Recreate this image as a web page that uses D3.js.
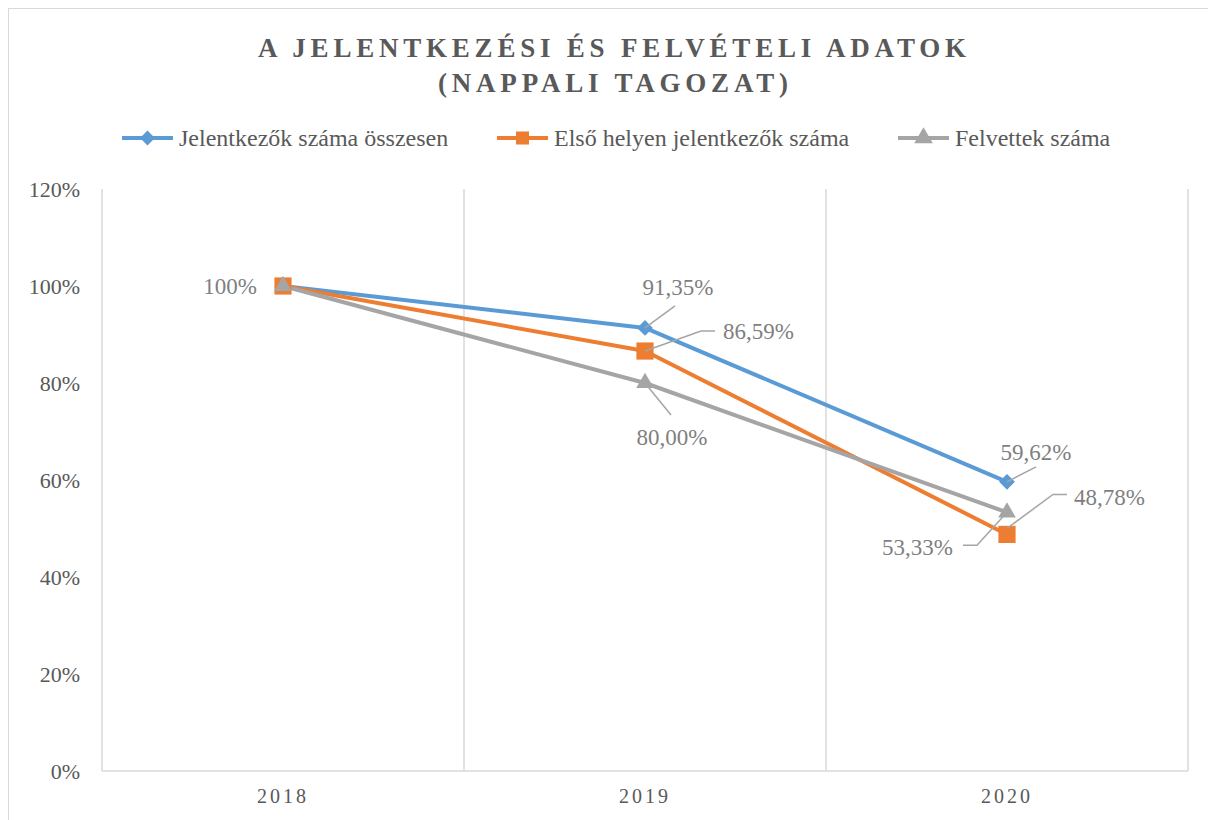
<!DOCTYPE html>
<html>
<head>
<meta charset="utf-8">
<script src="https://cdn.jsdelivr.net/npm/d3@7"></script>
<style>
  html, body { margin: 0; padding: 0; background: #fff; }
  svg { display: block; font-family: "Liberation Serif", "Times New Roman", serif; }
</style>
</head>
<body>
<svg id="chart" width="1208" height="820"></svg>
<script>
// data
const years = ["2018", "2019", "2020"];
const jelentkezok = [1.0, 0.9135, 0.5962];
const elsoHelyen = [1.0, 0.8659, 0.4878];
const felvettek = [1.0, 0.80, 0.5333];
const yTicks = [0, 0.2, 0.4, 0.6, 0.8, 1.0, 1.2];

const seriesNames = ["Jelentkezők száma összesen", "Első helyen jelentkezők száma", "Felvettek száma"];
const seriesValues = [jelentkezok, elsoHelyen, felvettek];
const colors = ["#5B9BD5", "#ED7D31", "#A5A5A5"];
const serif = "'Liberation Serif', 'Times New Roman', serif";

// diamond = square turned 45deg, like the spreadsheet marker
const markerPath = (s, big) => {
  if (s === 0) return d3.symbol().type(d3.symbolSquare).size(big ? 125 : 110)();
  if (s === 1) return d3.symbol().type(d3.symbolSquare).size(big ? 295 : 170)();
  return d3.symbol().type(d3.symbolTriangle).size(big ? 135 : 150)();
};
const markerRot = s => s === 0 ? " rotate(45)" : "";

const svg = d3.select("#chart");
const width = 1208, height = 820;
const margin = {left: 102, right: 20, top: 189, bottom: 49};

const x = d3.scaleBand().domain(years).range([margin.left, width - margin.right]).padding(0);
const y = d3.scaleLinear().domain([0, 1.2]).range([height - margin.bottom, margin.top]);
const cx = d => x(d) + x.bandwidth() / 2;

const fmt = v => v === 1 ? "100%" : (v * 100).toFixed(2).replace(".", ",") + "%";

// outer frame
svg.append("rect")
  .attr("x", 8.5).attr("y", 8.5)
  .attr("width", 1300).attr("height", 900)
  .attr("fill", "none").attr("stroke", "#d9d9d9");

// title
const title = svg.append("text")
  .attr("text-anchor", "middle")
  .attr("fill", "#595959")
  .attr("font-weight", "bold")
  .attr("font-size", 27);
title.append("tspan").attr("x", 612).attr("y", 57)
  .attr("textLength", 708).attr("lengthAdjust", "spacing")
  .text("A JELENTKEZÉSI ÉS FELVÉTELI ADATOK");
title.append("tspan").attr("x", 613).attr("y", 92)
  .attr("textLength", 350).attr("lengthAdjust", "spacing")
  .text("(NAPPALI TAGOZAT)");

// legend
const legendX = [122, 497, 898];
const legend = svg.append("g").selectAll("g")
  .data(seriesNames)
  .join("g")
  .attr("transform", (d, i) => `translate(${legendX[i]},138)`);
legend.append("line")
  .attr("x1", 0).attr("x2", 51)
  .attr("stroke", (d, i) => colors[i]).attr("stroke-width", 4);
legend.append("path")
  .attr("transform", (d, i) => "translate(25.5,0)" + markerRot(i))
  .attr("d", (d, i) => markerPath(i, false))
  .attr("fill", (d, i) => colors[i]);
legend.append("text")
  .attr("x", 57).attr("dy", "0.35em")
  .attr("fill", "#595959").attr("font-size", 24)
  .text(d => d);

// gridlines (vertical, at category edges)
const edges = years.map(d => x(d)).concat([x(years[years.length - 1]) + x.bandwidth()]);
svg.append("g").selectAll("line")
  .data(edges)
  .join("line")
  .attr("x1", d => d).attr("x2", d => d)
  .attr("y1", y(1.2)).attr("y2", y(0))
  .attr("stroke", "#d9d9d9").attr("stroke-width", 1.5);

// x axis line
svg.append("line")
  .attr("x1", x.range()[0]).attr("x2", x.range()[1])
  .attr("y1", y(0)).attr("y2", y(0))
  .attr("stroke", "#d9d9d9").attr("stroke-width", 1.5);

// y axis labels
const yAxis = d3.axisLeft(y).tickValues(yTicks).tickFormat(d => Math.round(d * 100) + "%").tickSize(0).tickPadding(22);
const yg = svg.append("g").attr("transform", `translate(${margin.left},0)`).call(yAxis);
yg.select(".domain").remove();
yg.selectAll("text").attr("fill", "#595959").attr("font-size", 22)
  .attr("font-family", serif);

// x axis labels
const xAxis = d3.axisBottom(x).tickSize(0).tickPadding(18);
const xg = svg.append("g").attr("transform", `translate(0,${y(0)})`).call(xAxis);
xg.select(".domain").remove();
xg.selectAll("text").attr("fill", "#595959").attr("font-size", 20)
  .attr("font-family", serif)
  .style("letter-spacing", "3px");

// lines
const line = d3.line().x((d, i) => cx(years[i])).y(d => y(d));
svg.append("g").selectAll("path")
  .data(seriesValues)
  .join("path")
  .attr("d", d => line(d))
  .attr("fill", "none")
  .attr("stroke", (d, i) => colors[i])
  .attr("stroke-width", 4)
  .attr("stroke-linejoin", "round");

// markers
seriesValues.forEach((vals, s) => {
  svg.append("g").selectAll("path")
    .data(vals)
    .join("path")
    .attr("transform", (d, i) => `translate(${cx(years[i])},${y(d)})` + markerRot(s))
    .attr("d", markerPath(s, true))
    .attr("fill", colors[s]);
});

// leader lines and labels (series index, year index, label offset, leader path offsets)
const labelSpec = [
  {s: 2, i: 0, dx: -26, dy: 0, anchor: "end", leader: null},
  {s: 0, i: 1, dx: 33, dy: -41, anchor: "middle", leader: [[0, 0], [30, -22]]},
  {s: 1, i: 1, dx: 78, dy: -20, anchor: "start", leader: [[0, 0], [56, -20], [70, -20]]},
  {s: 2, i: 1, dx: 27, dy: 54, anchor: "middle", leader: [[0, 0], [26, 32]]},
  {s: 0, i: 2, dx: 29, dy: -30, anchor: "middle", leader: [[0, 0], [29, -15]]},
  {s: 1, i: 2, dx: 67, dy: -37, anchor: "start", leader: [[0, -6], [46, -40], [60, -40]]},
  {s: 2, i: 2, dx: -54, dy: 35, anchor: "end", leader: [[0, 0], [-30, 33], [-44, 33]]}
];

const lab = svg.append("g");
labelSpec.forEach(l => {
  const px = cx(years[l.i]), py = y(seriesValues[l.s][l.i]);
  if (l.leader) {
    lab.append("path")
      .attr("d", d3.line()(l.leader.map(p => [px + p[0], py + p[1]])))
      .attr("fill", "none").attr("stroke", "#A5A5A5").attr("stroke-width", 1.5);
  }
  lab.append("text")
    .attr("x", px + l.dx).attr("y", py + l.dy)
    .attr("dy", "0.35em")
    .attr("text-anchor", l.anchor)
    .attr("fill", "#7f7f7f").attr("font-size", 23)
    .text(fmt(seriesValues[l.s][l.i]));
});
</script>
</body>
</html>
